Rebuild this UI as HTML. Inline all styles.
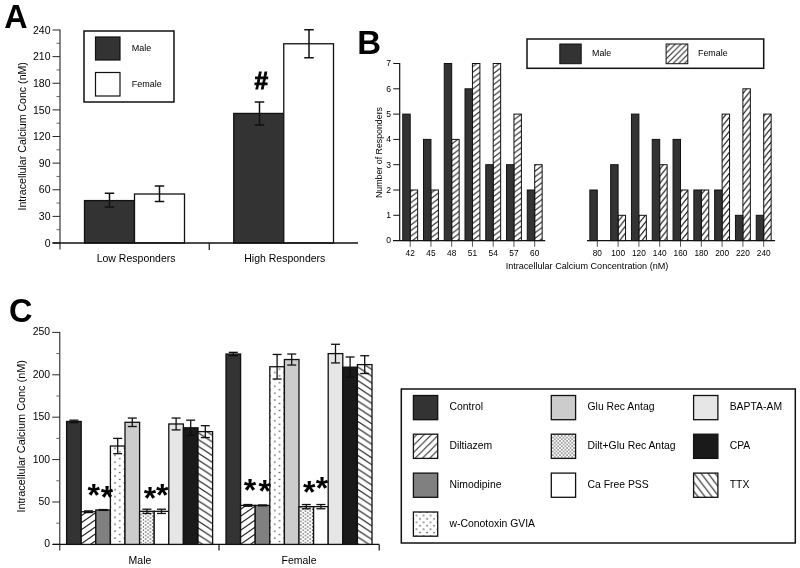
<!DOCTYPE html>
<html><head><meta charset="utf-8"><title>Figure</title>
<style>
html,body{margin:0;padding:0;background:#fff;}
body{width:800px;height:568px;overflow:hidden;font-family:"Liberation Sans",sans-serif;}
svg{display:block;filter:blur(0.35px);font-family:"Liberation Sans",sans-serif;}
</style></head><body>
<svg width="800" height="568" viewBox="0 0 800 568">
<rect x="0" y="0" width="800" height="568" fill="#fff"/>
<defs><pattern id="hB" patternUnits="userSpaceOnUse" width="7.47" height="5.6" patternTransform="translate(0 1)"><rect width="7.47" height="5.6" fill="#fff"/><path d="M-14.940 11.200 L7.470 -5.600 M-7.470 11.200 L14.940 -5.600 M0.000 11.200 L22.410 -5.600" stroke="#222" stroke-width="1.1" fill="none"/></pattern>
<pattern id="hB2" patternUnits="userSpaceOnUse" width="5.6" height="7.0" patternTransform="translate(0 0)"><rect width="5.6" height="7.0" fill="#fff"/><path d="M-11.200 14.000 L5.600 -7.000 M-5.600 14.000 L11.200 -7.000 M0.000 14.000 L16.800 -7.000" stroke="#222" stroke-width="1.1" fill="none"/></pattern>
<pattern id="hBL" patternUnits="userSpaceOnUse" width="5.7" height="5.7" patternTransform="translate(1.2 0)"><rect width="5.7" height="5.7" fill="#fff"/><path d="M-11.400 11.400 L5.700 -5.700 M-5.700 11.400 L11.400 -5.700 M0.000 11.400 L17.100 -5.700" stroke="#222" stroke-width="1.05" fill="none"/></pattern>
<pattern id="hD" patternUnits="userSpaceOnUse" width="10" height="7" patternTransform="translate(1 5)"><rect width="10" height="7" fill="#fff"/><path d="M-20.000 14.000 L10.000 -7.000 M-10.000 14.000 L20.000 -7.000 M0.000 14.000 L30.000 -7.000" stroke="#222" stroke-width="1.1" fill="none"/></pattern>
<pattern id="hDL" patternUnits="userSpaceOnUse" width="7.3" height="7.3" patternTransform="translate(4.7 0)"><rect width="7.3" height="7.3" fill="#fff"/><path d="M-14.600 14.600 L7.300 -7.300 M-7.300 14.600 L14.600 -7.300 M0.000 14.600 L21.900 -7.300" stroke="#222" stroke-width="1.05" fill="none"/></pattern>
<pattern id="hT" patternUnits="userSpaceOnUse" width="10.4" height="6.8" patternTransform="translate(198.2 473.5)"><rect width="10.4" height="6.8" fill="#fff"/><path d="M-10.400 -13.600 L20.800 6.800 M-10.400 -6.800 L20.800 13.600 M-10.400 0.000 L20.800 20.400" stroke="#222" stroke-width="1.1" fill="none"/></pattern>
<pattern id="hTL" patternUnits="userSpaceOnUse" width="7" height="9.1" patternTransform="translate(694.3 473.65)"><rect width="7" height="9.1" fill="#fff"/><path d="M-7.000 -18.200 L14.000 9.100 M-7.000 -9.100 L14.000 18.200 M-7.000 0.000 L14.000 27.300" stroke="#222" stroke-width="1.05" fill="none"/></pattern>
<pattern id="dS" patternUnits="userSpaceOnUse" width="9.4" height="6.9" patternTransform="translate(115 476)"><rect width="9.4" height="6.9" fill="#fff"/><circle cx="0.000" cy="0.000" r="0.66" fill="#000"/><circle cx="9.400" cy="0.000" r="0.66" fill="#000"/><circle cx="0.000" cy="6.900" r="0.66" fill="#000"/><circle cx="9.400" cy="6.900" r="0.66" fill="#000"/><circle cx="4.700" cy="3.450" r="0.66" fill="#000"/></pattern>
<pattern id="dSL" patternUnits="userSpaceOnUse" width="7" height="6.85" patternTransform="translate(416.55 515.5)"><rect width="7" height="6.85" fill="#fff"/><circle cx="0.000" cy="0.000" r="0.66" fill="#000"/><circle cx="7.000" cy="0.000" r="0.66" fill="#000"/><circle cx="0.000" cy="6.850" r="0.66" fill="#000"/><circle cx="7.000" cy="6.850" r="0.66" fill="#000"/><circle cx="3.500" cy="3.425" r="0.66" fill="#000"/></pattern>
<pattern id="dD" patternUnits="userSpaceOnUse" width="4.7" height="3.5" patternTransform="translate(0 0)"><rect width="4.7" height="3.5" fill="#fff"/><circle cx="0.000" cy="0.000" r="0.68" fill="#111"/><circle cx="4.700" cy="0.000" r="0.68" fill="#111"/><circle cx="0.000" cy="3.500" r="0.68" fill="#111"/><circle cx="4.700" cy="3.500" r="0.68" fill="#111"/><circle cx="2.350" cy="1.750" r="0.68" fill="#111"/></pattern>
<pattern id="dDL" patternUnits="userSpaceOnUse" width="3.5" height="3.5" patternTransform="translate(0 0)"><rect width="3.5" height="3.5" fill="#fff"/><circle cx="0.000" cy="0.000" r="0.64" fill="#111"/><circle cx="3.500" cy="0.000" r="0.64" fill="#111"/><circle cx="0.000" cy="3.500" r="0.64" fill="#111"/><circle cx="3.500" cy="3.500" r="0.64" fill="#111"/><circle cx="1.750" cy="1.750" r="0.64" fill="#111"/></pattern></defs>
<text x="4.20" y="27.60" font-size="32.3" text-anchor="start" font-weight="bold" fill="#000">A</text>
<line x1="60.00" y1="29.50" x2="60.00" y2="249.50" stroke="#111" stroke-width="1.0"/>
<line x1="52.50" y1="243.00" x2="60.00" y2="243.00" stroke="#111" stroke-width="0.9"/>
<text x="50.50" y="246.70" font-size="10.5" text-anchor="end" font-weight="normal" fill="#000">0</text>
<line x1="52.50" y1="216.38" x2="60.00" y2="216.38" stroke="#111" stroke-width="0.9"/>
<text x="50.50" y="220.07" font-size="10.5" text-anchor="end" font-weight="normal" fill="#000">30</text>
<line x1="52.50" y1="189.75" x2="60.00" y2="189.75" stroke="#111" stroke-width="0.9"/>
<text x="50.50" y="193.45" font-size="10.5" text-anchor="end" font-weight="normal" fill="#000">60</text>
<line x1="52.50" y1="163.12" x2="60.00" y2="163.12" stroke="#111" stroke-width="0.9"/>
<text x="50.50" y="166.82" font-size="10.5" text-anchor="end" font-weight="normal" fill="#000">90</text>
<line x1="52.50" y1="136.50" x2="60.00" y2="136.50" stroke="#111" stroke-width="0.9"/>
<text x="50.50" y="140.20" font-size="10.5" text-anchor="end" font-weight="normal" fill="#000">120</text>
<line x1="52.50" y1="109.88" x2="60.00" y2="109.88" stroke="#111" stroke-width="0.9"/>
<text x="50.50" y="113.58" font-size="10.5" text-anchor="end" font-weight="normal" fill="#000">150</text>
<line x1="52.50" y1="83.25" x2="60.00" y2="83.25" stroke="#111" stroke-width="0.9"/>
<text x="50.50" y="86.95" font-size="10.5" text-anchor="end" font-weight="normal" fill="#000">180</text>
<line x1="52.50" y1="56.62" x2="60.00" y2="56.62" stroke="#111" stroke-width="0.9"/>
<text x="50.50" y="60.33" font-size="10.5" text-anchor="end" font-weight="normal" fill="#000">210</text>
<line x1="52.50" y1="30.00" x2="60.00" y2="30.00" stroke="#111" stroke-width="0.9"/>
<text x="50.50" y="33.70" font-size="10.5" text-anchor="end" font-weight="normal" fill="#000">240</text>
<line x1="56.50" y1="229.69" x2="60.00" y2="229.69" stroke="#555" stroke-width="0.9"/>
<line x1="56.50" y1="203.06" x2="60.00" y2="203.06" stroke="#555" stroke-width="0.9"/>
<line x1="56.50" y1="176.44" x2="60.00" y2="176.44" stroke="#555" stroke-width="0.9"/>
<line x1="56.50" y1="149.81" x2="60.00" y2="149.81" stroke="#555" stroke-width="0.9"/>
<line x1="56.50" y1="123.19" x2="60.00" y2="123.19" stroke="#555" stroke-width="0.9"/>
<line x1="56.50" y1="96.56" x2="60.00" y2="96.56" stroke="#555" stroke-width="0.9"/>
<line x1="56.50" y1="69.94" x2="60.00" y2="69.94" stroke="#555" stroke-width="0.9"/>
<line x1="56.50" y1="43.31" x2="60.00" y2="43.31" stroke="#555" stroke-width="0.9"/>
<text x="26.50" y="136.30" font-size="10.6" text-anchor="middle" font-weight="normal" fill="#000" transform="rotate(-90 26.50 136.30)">Intracellular Calcium Conc (nM)</text>
<rect x="84.50" y="200.58" width="50.00" height="42.42" fill="#333" stroke="#111" stroke-width="1.3"/>
<rect x="134.50" y="194.01" width="50.00" height="48.99" fill="#fff" stroke="#111" stroke-width="1.3"/>
<rect x="233.75" y="113.43" width="50.00" height="129.57" fill="#333" stroke="#111" stroke-width="1.3"/>
<rect x="283.75" y="43.76" width="49.75" height="199.24" fill="#fff" stroke="#111" stroke-width="1.3"/>
<line x1="109.50" y1="193.25" x2="109.50" y2="207.00" stroke="#111" stroke-width="1.5"/>
<line x1="104.75" y1="193.25" x2="114.25" y2="193.25" stroke="#111" stroke-width="1.5"/>
<line x1="104.75" y1="207.00" x2="114.25" y2="207.00" stroke="#111" stroke-width="1.5"/>
<line x1="159.50" y1="186.00" x2="159.50" y2="201.50" stroke="#111" stroke-width="1.5"/>
<line x1="154.75" y1="186.00" x2="164.25" y2="186.00" stroke="#111" stroke-width="1.5"/>
<line x1="154.75" y1="201.50" x2="164.25" y2="201.50" stroke="#111" stroke-width="1.5"/>
<line x1="259.50" y1="102.00" x2="259.50" y2="125.00" stroke="#111" stroke-width="1.5"/>
<line x1="254.75" y1="102.00" x2="264.25" y2="102.00" stroke="#111" stroke-width="1.5"/>
<line x1="254.75" y1="125.00" x2="264.25" y2="125.00" stroke="#111" stroke-width="1.5"/>
<line x1="309.00" y1="29.75" x2="309.00" y2="57.75" stroke="#111" stroke-width="1.5"/>
<line x1="304.25" y1="29.75" x2="313.75" y2="29.75" stroke="#111" stroke-width="1.5"/>
<line x1="304.25" y1="57.75" x2="313.75" y2="57.75" stroke="#111" stroke-width="1.5"/>
<line x1="52.50" y1="243.00" x2="358.00" y2="243.00" stroke="#111" stroke-width="1.3"/>
<line x1="209.25" y1="243.00" x2="209.25" y2="250.00" stroke="#111" stroke-width="1.2"/>
<text x="136.10" y="261.60" font-size="10.5" text-anchor="middle" font-weight="normal" fill="#000">Low Responders</text>
<text x="284.80" y="261.60" font-size="10.5" text-anchor="middle" font-weight="normal" fill="#000">High Responders</text>
<text x="261.3" y="88.6" font-size="24.5" text-anchor="middle" font-weight="bold" fill="#000" stroke="#000" stroke-width="0.9">#</text>
<rect x="84.00" y="31.00" width="90.00" height="71.00" fill="#fff" stroke="#111" stroke-width="1.5"/>
<rect x="95.50" y="37.00" width="24.50" height="23.00" fill="#333" stroke="#111" stroke-width="1.2"/>
<rect x="95.50" y="72.50" width="24.50" height="23.50" fill="#fff" stroke="#111" stroke-width="1.2"/>
<text x="131.70" y="51.00" font-size="9" text-anchor="start" font-weight="normal" fill="#000">Male</text>
<text x="131.70" y="86.80" font-size="9" text-anchor="start" font-weight="normal" fill="#000">Female</text>
<text x="357.30" y="54.40" font-size="33" text-anchor="start" font-weight="bold" fill="#000">B</text>
<line x1="399.70" y1="63.00" x2="399.70" y2="240.60" stroke="#111" stroke-width="1.2"/>
<text x="391.00" y="243.40" font-size="8.6" text-anchor="end" font-weight="normal" fill="#000">0</text>
<line x1="393.30" y1="215.30" x2="399.70" y2="215.30" stroke="#111" stroke-width="1.0"/>
<text x="391.00" y="218.10" font-size="8.6" text-anchor="end" font-weight="normal" fill="#000">1</text>
<line x1="393.30" y1="190.00" x2="399.70" y2="190.00" stroke="#111" stroke-width="1.0"/>
<text x="391.00" y="192.80" font-size="8.6" text-anchor="end" font-weight="normal" fill="#000">2</text>
<line x1="393.30" y1="164.70" x2="399.70" y2="164.70" stroke="#111" stroke-width="1.0"/>
<text x="391.00" y="167.50" font-size="8.6" text-anchor="end" font-weight="normal" fill="#000">3</text>
<line x1="393.30" y1="139.40" x2="399.70" y2="139.40" stroke="#111" stroke-width="1.0"/>
<text x="391.00" y="142.20" font-size="8.6" text-anchor="end" font-weight="normal" fill="#000">4</text>
<line x1="393.30" y1="114.10" x2="399.70" y2="114.10" stroke="#111" stroke-width="1.0"/>
<text x="391.00" y="116.90" font-size="8.6" text-anchor="end" font-weight="normal" fill="#000">5</text>
<line x1="393.30" y1="88.80" x2="399.70" y2="88.80" stroke="#111" stroke-width="1.0"/>
<text x="391.00" y="91.60" font-size="8.6" text-anchor="end" font-weight="normal" fill="#000">6</text>
<line x1="393.30" y1="63.50" x2="399.70" y2="63.50" stroke="#111" stroke-width="1.0"/>
<text x="391.00" y="66.30" font-size="8.6" text-anchor="end" font-weight="normal" fill="#000">7</text>
<text x="381.50" y="152.50" font-size="8.8" text-anchor="middle" font-weight="normal" fill="#000" transform="rotate(-90 381.50 152.50)">Number of Responders</text>
<line x1="393.00" y1="240.60" x2="545.20" y2="240.60" stroke="#111" stroke-width="1.3"/>
<line x1="587.00" y1="240.60" x2="775.10" y2="240.60" stroke="#111" stroke-width="1.3"/>
<line x1="410.20" y1="240.60" x2="410.20" y2="246.80" stroke="#444" stroke-width="0.9"/>
<text x="410.20" y="256.20" font-size="8.3" text-anchor="middle" font-weight="normal" fill="#000">42</text>
<rect x="410.20" y="190.00" width="7.45" height="50.60" fill="url(#hB)" stroke="#111" stroke-width="1.0"/>
<rect x="402.75" y="114.10" width="7.45" height="126.50" fill="#333" stroke="#111" stroke-width="1.0"/>
<line x1="430.95" y1="240.60" x2="430.95" y2="246.80" stroke="#444" stroke-width="0.9"/>
<text x="430.95" y="256.20" font-size="8.3" text-anchor="middle" font-weight="normal" fill="#000">45</text>
<rect x="430.95" y="190.00" width="7.45" height="50.60" fill="url(#hB)" stroke="#111" stroke-width="1.0"/>
<rect x="423.50" y="139.40" width="7.45" height="101.20" fill="#333" stroke="#111" stroke-width="1.0"/>
<line x1="451.70" y1="240.60" x2="451.70" y2="246.80" stroke="#444" stroke-width="0.9"/>
<text x="451.70" y="256.20" font-size="8.3" text-anchor="middle" font-weight="normal" fill="#000">48</text>
<rect x="451.70" y="139.40" width="7.45" height="101.20" fill="url(#hB)" stroke="#111" stroke-width="1.0"/>
<rect x="444.25" y="63.50" width="7.45" height="177.10" fill="#333" stroke="#111" stroke-width="1.0"/>
<line x1="472.45" y1="240.60" x2="472.45" y2="246.80" stroke="#444" stroke-width="0.9"/>
<text x="472.45" y="256.20" font-size="8.3" text-anchor="middle" font-weight="normal" fill="#000">51</text>
<rect x="472.45" y="63.50" width="7.45" height="177.10" fill="url(#hB)" stroke="#111" stroke-width="1.0"/>
<rect x="465.00" y="88.80" width="7.45" height="151.80" fill="#333" stroke="#111" stroke-width="1.0"/>
<line x1="493.20" y1="240.60" x2="493.20" y2="246.80" stroke="#444" stroke-width="0.9"/>
<text x="493.20" y="256.20" font-size="8.3" text-anchor="middle" font-weight="normal" fill="#000">54</text>
<rect x="493.20" y="63.50" width="7.45" height="177.10" fill="url(#hB)" stroke="#111" stroke-width="1.0"/>
<rect x="485.75" y="164.70" width="7.45" height="75.90" fill="#333" stroke="#111" stroke-width="1.0"/>
<line x1="513.95" y1="240.60" x2="513.95" y2="246.80" stroke="#444" stroke-width="0.9"/>
<text x="513.95" y="256.20" font-size="8.3" text-anchor="middle" font-weight="normal" fill="#000">57</text>
<rect x="513.95" y="114.10" width="7.45" height="126.50" fill="url(#hB)" stroke="#111" stroke-width="1.0"/>
<rect x="506.50" y="164.70" width="7.45" height="75.90" fill="#333" stroke="#111" stroke-width="1.0"/>
<line x1="534.70" y1="240.60" x2="534.70" y2="246.80" stroke="#444" stroke-width="0.9"/>
<text x="534.70" y="256.20" font-size="8.3" text-anchor="middle" font-weight="normal" fill="#000">60</text>
<rect x="534.70" y="164.70" width="7.45" height="75.90" fill="url(#hB)" stroke="#111" stroke-width="1.0"/>
<rect x="527.25" y="190.00" width="7.45" height="50.60" fill="#333" stroke="#111" stroke-width="1.0"/>
<line x1="597.30" y1="240.60" x2="597.30" y2="246.80" stroke="#444" stroke-width="0.9"/>
<text x="597.30" y="256.20" font-size="8.3" text-anchor="middle" font-weight="normal" fill="#000">80</text>
<rect x="589.85" y="190.00" width="7.45" height="50.60" fill="#333" stroke="#111" stroke-width="1.0"/>
<line x1="618.10" y1="240.60" x2="618.10" y2="246.80" stroke="#444" stroke-width="0.9"/>
<text x="618.10" y="256.20" font-size="8.3" text-anchor="middle" font-weight="normal" fill="#000">100</text>
<rect x="618.10" y="215.30" width="7.45" height="25.30" fill="url(#hB2)" stroke="#111" stroke-width="1.0"/>
<rect x="610.65" y="164.70" width="7.45" height="75.90" fill="#333" stroke="#111" stroke-width="1.0"/>
<line x1="638.90" y1="240.60" x2="638.90" y2="246.80" stroke="#444" stroke-width="0.9"/>
<text x="638.90" y="256.20" font-size="8.3" text-anchor="middle" font-weight="normal" fill="#000">120</text>
<rect x="638.90" y="215.30" width="7.45" height="25.30" fill="url(#hB2)" stroke="#111" stroke-width="1.0"/>
<rect x="631.45" y="114.10" width="7.45" height="126.50" fill="#333" stroke="#111" stroke-width="1.0"/>
<line x1="659.70" y1="240.60" x2="659.70" y2="246.80" stroke="#444" stroke-width="0.9"/>
<text x="659.70" y="256.20" font-size="8.3" text-anchor="middle" font-weight="normal" fill="#000">140</text>
<rect x="659.70" y="164.70" width="7.45" height="75.90" fill="url(#hB2)" stroke="#111" stroke-width="1.0"/>
<rect x="652.25" y="139.40" width="7.45" height="101.20" fill="#333" stroke="#111" stroke-width="1.0"/>
<line x1="680.50" y1="240.60" x2="680.50" y2="246.80" stroke="#444" stroke-width="0.9"/>
<text x="680.50" y="256.20" font-size="8.3" text-anchor="middle" font-weight="normal" fill="#000">160</text>
<rect x="680.50" y="190.00" width="7.45" height="50.60" fill="url(#hB2)" stroke="#111" stroke-width="1.0"/>
<rect x="673.05" y="139.40" width="7.45" height="101.20" fill="#333" stroke="#111" stroke-width="1.0"/>
<line x1="701.30" y1="240.60" x2="701.30" y2="246.80" stroke="#444" stroke-width="0.9"/>
<text x="701.30" y="256.20" font-size="8.3" text-anchor="middle" font-weight="normal" fill="#000">180</text>
<rect x="701.30" y="190.00" width="7.45" height="50.60" fill="url(#hB2)" stroke="#111" stroke-width="1.0"/>
<rect x="693.85" y="190.00" width="7.45" height="50.60" fill="#333" stroke="#111" stroke-width="1.0"/>
<line x1="722.10" y1="240.60" x2="722.10" y2="246.80" stroke="#444" stroke-width="0.9"/>
<text x="722.10" y="256.20" font-size="8.3" text-anchor="middle" font-weight="normal" fill="#000">200</text>
<rect x="722.10" y="114.10" width="7.45" height="126.50" fill="url(#hB2)" stroke="#111" stroke-width="1.0"/>
<rect x="714.65" y="190.00" width="7.45" height="50.60" fill="#333" stroke="#111" stroke-width="1.0"/>
<line x1="742.90" y1="240.60" x2="742.90" y2="246.80" stroke="#444" stroke-width="0.9"/>
<text x="742.90" y="256.20" font-size="8.3" text-anchor="middle" font-weight="normal" fill="#000">220</text>
<rect x="742.90" y="88.80" width="7.45" height="151.80" fill="url(#hB2)" stroke="#111" stroke-width="1.0"/>
<rect x="735.45" y="215.30" width="7.45" height="25.30" fill="#333" stroke="#111" stroke-width="1.0"/>
<line x1="763.70" y1="240.60" x2="763.70" y2="246.80" stroke="#444" stroke-width="0.9"/>
<text x="763.70" y="256.20" font-size="8.3" text-anchor="middle" font-weight="normal" fill="#000">240</text>
<rect x="763.70" y="114.10" width="7.45" height="126.50" fill="url(#hB2)" stroke="#111" stroke-width="1.0"/>
<rect x="756.25" y="215.30" width="7.45" height="25.30" fill="#333" stroke="#111" stroke-width="1.0"/>
<text x="587.00" y="269.20" font-size="9.1" text-anchor="middle" font-weight="normal" fill="#000">Intracellular Calcium Concentration (nM)</text>
<rect x="527.00" y="39.00" width="236.70" height="29.30" fill="#fff" stroke="#111" stroke-width="1.5"/>
<rect x="559.80" y="44.00" width="21.40" height="19.70" fill="#333" stroke="#111" stroke-width="1.0"/>
<rect x="666.10" y="44.00" width="21.70" height="19.70" fill="url(#hBL)" stroke="#111" stroke-width="1.0"/>
<text x="592.00" y="56.00" font-size="8.9" text-anchor="start" font-weight="normal" fill="#000">Male</text>
<text x="698.00" y="56.00" font-size="8.9" text-anchor="start" font-weight="normal" fill="#000">Female</text>
<text x="8.90" y="322.00" font-size="32.5" text-anchor="start" font-weight="bold" fill="#000">C</text>
<line x1="59.80" y1="331.90" x2="59.80" y2="550.50" stroke="#111" stroke-width="1.0"/>
<line x1="52.20" y1="544.40" x2="59.80" y2="544.40" stroke="#111" stroke-width="0.9"/>
<text x="50.00" y="547.40" font-size="10.4" text-anchor="end" font-weight="normal" fill="#000">0</text>
<line x1="52.20" y1="502.00" x2="59.80" y2="502.00" stroke="#111" stroke-width="0.9"/>
<text x="50.00" y="505.00" font-size="10.4" text-anchor="end" font-weight="normal" fill="#000">50</text>
<line x1="52.20" y1="459.60" x2="59.80" y2="459.60" stroke="#111" stroke-width="0.9"/>
<text x="50.00" y="462.60" font-size="10.4" text-anchor="end" font-weight="normal" fill="#000">100</text>
<line x1="52.20" y1="417.20" x2="59.80" y2="417.20" stroke="#111" stroke-width="0.9"/>
<text x="50.00" y="420.20" font-size="10.4" text-anchor="end" font-weight="normal" fill="#000">150</text>
<line x1="52.20" y1="374.80" x2="59.80" y2="374.80" stroke="#111" stroke-width="0.9"/>
<text x="50.00" y="377.80" font-size="10.4" text-anchor="end" font-weight="normal" fill="#000">200</text>
<line x1="52.20" y1="332.40" x2="59.80" y2="332.40" stroke="#111" stroke-width="0.9"/>
<text x="50.00" y="335.40" font-size="10.4" text-anchor="end" font-weight="normal" fill="#000">250</text>
<line x1="56.30" y1="523.20" x2="59.80" y2="523.20" stroke="#555" stroke-width="0.9"/>
<line x1="56.30" y1="480.80" x2="59.80" y2="480.80" stroke="#555" stroke-width="0.9"/>
<line x1="56.30" y1="438.40" x2="59.80" y2="438.40" stroke="#555" stroke-width="0.9"/>
<line x1="56.30" y1="396.00" x2="59.80" y2="396.00" stroke="#555" stroke-width="0.9"/>
<line x1="56.30" y1="353.60" x2="59.80" y2="353.60" stroke="#555" stroke-width="0.9"/>
<text x="25.30" y="436.30" font-size="10.9" text-anchor="middle" font-weight="normal" fill="#000" transform="rotate(-90 25.30 436.30)">Intracellular Calcium Conc (nM)</text>
<line x1="52.80" y1="544.40" x2="379.20" y2="544.40" stroke="#111" stroke-width="1.3"/>
<line x1="219.00" y1="544.40" x2="219.00" y2="550.50" stroke="#111" stroke-width="1.2"/>
<line x1="379.20" y1="544.40" x2="379.20" y2="550.50" stroke="#111" stroke-width="1.2"/>
<text x="140.00" y="564.00" font-size="10.5" text-anchor="middle" font-weight="normal" fill="#000">Male</text>
<text x="299.00" y="564.00" font-size="10.5" text-anchor="middle" font-weight="normal" fill="#000">Female</text>
<rect x="66.60" y="421.44" width="14.60" height="122.96" fill="#333" stroke="#111" stroke-width="1.3"/>
<rect x="81.20" y="511.75" width="14.60" height="32.65" fill="url(#hD)" stroke="#111" stroke-width="1.3"/>
<rect x="95.80" y="509.97" width="14.60" height="34.43" fill="#808080" stroke="#111" stroke-width="1.3"/>
<rect x="110.40" y="446.03" width="14.60" height="98.37" fill="url(#dS)" stroke="#111" stroke-width="1.3"/>
<rect x="125.00" y="422.29" width="14.60" height="122.11" fill="#cccccc" stroke="#111" stroke-width="1.3"/>
<rect x="139.60" y="511.33" width="14.60" height="33.07" fill="url(#dD)" stroke="#111" stroke-width="1.3"/>
<rect x="154.20" y="511.33" width="14.60" height="33.07" fill="#fff" stroke="#111" stroke-width="1.3"/>
<rect x="168.80" y="423.98" width="14.60" height="120.42" fill="#e6e6e6" stroke="#111" stroke-width="1.3"/>
<rect x="183.40" y="427.80" width="14.60" height="116.60" fill="#1a1a1a" stroke="#111" stroke-width="1.3"/>
<rect x="198.00" y="431.62" width="14.60" height="112.78" fill="url(#hT)" stroke="#111" stroke-width="1.3"/>
<line x1="73.90" y1="420.17" x2="73.90" y2="422.71" stroke="#111" stroke-width="1.3"/>
<line x1="69.40" y1="420.17" x2="78.40" y2="420.17" stroke="#111" stroke-width="1.3"/>
<line x1="69.40" y1="422.71" x2="78.40" y2="422.71" stroke="#111" stroke-width="1.3"/>
<line x1="88.50" y1="510.90" x2="88.50" y2="512.60" stroke="#111" stroke-width="1.3"/>
<line x1="84.00" y1="510.90" x2="93.00" y2="510.90" stroke="#111" stroke-width="1.3"/>
<line x1="84.00" y1="512.60" x2="93.00" y2="512.60" stroke="#111" stroke-width="1.3"/>
<line x1="103.10" y1="509.55" x2="103.10" y2="510.40" stroke="#111" stroke-width="1.3"/>
<line x1="98.60" y1="509.55" x2="107.60" y2="509.55" stroke="#111" stroke-width="1.3"/>
<line x1="98.60" y1="510.40" x2="107.60" y2="510.40" stroke="#111" stroke-width="1.3"/>
<line x1="117.70" y1="438.40" x2="117.70" y2="453.66" stroke="#111" stroke-width="1.3"/>
<line x1="113.20" y1="438.40" x2="122.20" y2="438.40" stroke="#111" stroke-width="1.3"/>
<line x1="113.20" y1="453.66" x2="122.20" y2="453.66" stroke="#111" stroke-width="1.3"/>
<line x1="132.30" y1="418.05" x2="132.30" y2="426.53" stroke="#111" stroke-width="1.3"/>
<line x1="127.80" y1="418.05" x2="136.80" y2="418.05" stroke="#111" stroke-width="1.3"/>
<line x1="127.80" y1="426.53" x2="136.80" y2="426.53" stroke="#111" stroke-width="1.3"/>
<line x1="146.90" y1="509.21" x2="146.90" y2="513.45" stroke="#111" stroke-width="1.3"/>
<line x1="142.40" y1="509.21" x2="151.40" y2="509.21" stroke="#111" stroke-width="1.3"/>
<line x1="142.40" y1="513.45" x2="151.40" y2="513.45" stroke="#111" stroke-width="1.3"/>
<line x1="161.50" y1="509.21" x2="161.50" y2="513.45" stroke="#111" stroke-width="1.3"/>
<line x1="157.00" y1="509.21" x2="166.00" y2="509.21" stroke="#111" stroke-width="1.3"/>
<line x1="157.00" y1="513.45" x2="166.00" y2="513.45" stroke="#111" stroke-width="1.3"/>
<line x1="176.10" y1="418.05" x2="176.10" y2="429.92" stroke="#111" stroke-width="1.3"/>
<line x1="171.60" y1="418.05" x2="180.60" y2="418.05" stroke="#111" stroke-width="1.3"/>
<line x1="171.60" y1="429.92" x2="180.60" y2="429.92" stroke="#111" stroke-width="1.3"/>
<line x1="190.70" y1="420.17" x2="190.70" y2="435.43" stroke="#111" stroke-width="1.3"/>
<line x1="186.20" y1="420.17" x2="195.20" y2="420.17" stroke="#111" stroke-width="1.3"/>
<line x1="186.20" y1="435.43" x2="195.20" y2="435.43" stroke="#111" stroke-width="1.3"/>
<line x1="205.30" y1="425.68" x2="205.30" y2="437.55" stroke="#111" stroke-width="1.3"/>
<line x1="200.80" y1="425.68" x2="209.80" y2="425.68" stroke="#111" stroke-width="1.3"/>
<line x1="200.80" y1="437.55" x2="209.80" y2="437.55" stroke="#111" stroke-width="1.3"/>
<rect x="226.00" y="354.02" width="14.60" height="190.38" fill="#333" stroke="#111" stroke-width="1.3"/>
<rect x="240.60" y="505.39" width="14.60" height="39.01" fill="url(#hD)" stroke="#111" stroke-width="1.3"/>
<rect x="255.20" y="505.39" width="14.60" height="39.01" fill="#808080" stroke="#111" stroke-width="1.3"/>
<rect x="269.80" y="366.74" width="14.60" height="177.66" fill="url(#dS)" stroke="#111" stroke-width="1.3"/>
<rect x="284.40" y="359.54" width="14.60" height="184.86" fill="#cccccc" stroke="#111" stroke-width="1.3"/>
<rect x="299.00" y="506.66" width="14.60" height="37.74" fill="url(#dD)" stroke="#111" stroke-width="1.3"/>
<rect x="313.60" y="506.66" width="14.60" height="37.74" fill="#fff" stroke="#111" stroke-width="1.3"/>
<rect x="328.20" y="353.60" width="14.60" height="190.80" fill="#e6e6e6" stroke="#111" stroke-width="1.3"/>
<rect x="342.80" y="367.17" width="14.60" height="177.23" fill="#1a1a1a" stroke="#111" stroke-width="1.3"/>
<rect x="357.40" y="364.62" width="14.60" height="179.78" fill="url(#hT)" stroke="#111" stroke-width="1.3"/>
<line x1="233.30" y1="352.33" x2="233.30" y2="355.72" stroke="#111" stroke-width="1.3"/>
<line x1="228.80" y1="352.33" x2="237.80" y2="352.33" stroke="#111" stroke-width="1.3"/>
<line x1="228.80" y1="355.72" x2="237.80" y2="355.72" stroke="#111" stroke-width="1.3"/>
<line x1="247.90" y1="504.54" x2="247.90" y2="506.24" stroke="#111" stroke-width="1.3"/>
<line x1="243.40" y1="504.54" x2="252.40" y2="504.54" stroke="#111" stroke-width="1.3"/>
<line x1="243.40" y1="506.24" x2="252.40" y2="506.24" stroke="#111" stroke-width="1.3"/>
<line x1="262.50" y1="504.97" x2="262.50" y2="505.82" stroke="#111" stroke-width="1.3"/>
<line x1="258.00" y1="504.97" x2="267.00" y2="504.97" stroke="#111" stroke-width="1.3"/>
<line x1="258.00" y1="505.82" x2="267.00" y2="505.82" stroke="#111" stroke-width="1.3"/>
<line x1="277.10" y1="354.45" x2="277.10" y2="379.04" stroke="#111" stroke-width="1.3"/>
<line x1="272.60" y1="354.45" x2="281.60" y2="354.45" stroke="#111" stroke-width="1.3"/>
<line x1="272.60" y1="379.04" x2="281.60" y2="379.04" stroke="#111" stroke-width="1.3"/>
<line x1="291.70" y1="354.02" x2="291.70" y2="365.05" stroke="#111" stroke-width="1.3"/>
<line x1="287.20" y1="354.02" x2="296.20" y2="354.02" stroke="#111" stroke-width="1.3"/>
<line x1="287.20" y1="365.05" x2="296.20" y2="365.05" stroke="#111" stroke-width="1.3"/>
<line x1="306.30" y1="504.54" x2="306.30" y2="508.78" stroke="#111" stroke-width="1.3"/>
<line x1="301.80" y1="504.54" x2="310.80" y2="504.54" stroke="#111" stroke-width="1.3"/>
<line x1="301.80" y1="508.78" x2="310.80" y2="508.78" stroke="#111" stroke-width="1.3"/>
<line x1="320.90" y1="504.54" x2="320.90" y2="508.78" stroke="#111" stroke-width="1.3"/>
<line x1="316.40" y1="504.54" x2="325.40" y2="504.54" stroke="#111" stroke-width="1.3"/>
<line x1="316.40" y1="508.78" x2="325.40" y2="508.78" stroke="#111" stroke-width="1.3"/>
<line x1="335.50" y1="344.27" x2="335.50" y2="362.93" stroke="#111" stroke-width="1.3"/>
<line x1="331.00" y1="344.27" x2="340.00" y2="344.27" stroke="#111" stroke-width="1.3"/>
<line x1="331.00" y1="362.93" x2="340.00" y2="362.93" stroke="#111" stroke-width="1.3"/>
<line x1="350.10" y1="356.99" x2="350.10" y2="377.34" stroke="#111" stroke-width="1.3"/>
<line x1="345.60" y1="356.99" x2="354.60" y2="356.99" stroke="#111" stroke-width="1.3"/>
<line x1="345.60" y1="377.34" x2="354.60" y2="377.34" stroke="#111" stroke-width="1.3"/>
<line x1="364.70" y1="355.72" x2="364.70" y2="373.53" stroke="#111" stroke-width="1.3"/>
<line x1="360.20" y1="355.72" x2="369.20" y2="355.72" stroke="#111" stroke-width="1.3"/>
<line x1="360.20" y1="373.53" x2="369.20" y2="373.53" stroke="#111" stroke-width="1.3"/>
<text x="93.75" y="506.20" font-size="32" text-anchor="middle" font-weight="bold" fill="#000">*</text>
<text x="107.00" y="507.90" font-size="32" text-anchor="middle" font-weight="bold" fill="#000">*</text>
<text x="150.10" y="508.70" font-size="32" text-anchor="middle" font-weight="bold" fill="#000">*</text>
<text x="162.20" y="505.90" font-size="32" text-anchor="middle" font-weight="bold" fill="#000">*</text>
<text x="249.90" y="500.50" font-size="32" text-anchor="middle" font-weight="bold" fill="#000">*</text>
<text x="264.80" y="502.10" font-size="32" text-anchor="middle" font-weight="bold" fill="#000">*</text>
<text x="309.30" y="503.20" font-size="32" text-anchor="middle" font-weight="bold" fill="#000">*</text>
<text x="322.00" y="499.00" font-size="32" text-anchor="middle" font-weight="bold" fill="#000">*</text>
<rect x="401.30" y="389.00" width="394.00" height="154.00" fill="#fff" stroke="#111" stroke-width="1.5"/>
<rect x="413.40" y="395.50" width="24.30" height="24.20" fill="#333" stroke="#111" stroke-width="1.3"/>
<text x="449.50" y="410.40" font-size="10.4" text-anchor="start" font-weight="normal" fill="#000">Control</text>
<rect x="413.40" y="434.20" width="24.30" height="24.20" fill="url(#hDL)" stroke="#111" stroke-width="1.3"/>
<text x="449.50" y="449.10" font-size="10.4" text-anchor="start" font-weight="normal" fill="#000">Diltiazem</text>
<rect x="413.40" y="473.10" width="24.30" height="24.20" fill="#808080" stroke="#111" stroke-width="1.3"/>
<text x="449.50" y="488.00" font-size="10.4" text-anchor="start" font-weight="normal" fill="#000">Nimodipine</text>
<rect x="413.40" y="512.00" width="24.30" height="24.20" fill="url(#dSL)" stroke="#111" stroke-width="1.3"/>
<text x="449.50" y="526.90" font-size="10.4" text-anchor="start" font-weight="normal" fill="#000">w-Conotoxin GVIA</text>
<rect x="551.30" y="395.50" width="24.30" height="24.20" fill="#cccccc" stroke="#111" stroke-width="1.3"/>
<text x="587.50" y="410.40" font-size="10.4" text-anchor="start" font-weight="normal" fill="#000">Glu Rec Antag</text>
<rect x="551.30" y="434.20" width="24.30" height="24.20" fill="url(#dDL)" stroke="#111" stroke-width="1.3"/>
<text x="587.50" y="449.10" font-size="10.4" text-anchor="start" font-weight="normal" fill="#000">Dilt+Glu Rec Antag</text>
<rect x="551.30" y="473.10" width="24.30" height="24.20" fill="#fff" stroke="#111" stroke-width="1.3"/>
<text x="587.50" y="488.00" font-size="10.4" text-anchor="start" font-weight="normal" fill="#000">Ca Free PSS</text>
<rect x="693.60" y="395.50" width="24.30" height="24.20" fill="#e6e6e6" stroke="#111" stroke-width="1.3"/>
<text x="729.70" y="410.40" font-size="10.4" text-anchor="start" font-weight="normal" fill="#000">BAPTA-AM</text>
<rect x="693.60" y="434.20" width="24.30" height="24.20" fill="#1a1a1a" stroke="#111" stroke-width="1.3"/>
<text x="729.70" y="449.10" font-size="10.4" text-anchor="start" font-weight="normal" fill="#000">CPA</text>
<rect x="693.60" y="473.10" width="24.30" height="24.20" fill="url(#hTL)" stroke="#111" stroke-width="1.3"/>
<text x="729.70" y="488.00" font-size="10.4" text-anchor="start" font-weight="normal" fill="#000">TTX</text>
</svg>
</body></html>
